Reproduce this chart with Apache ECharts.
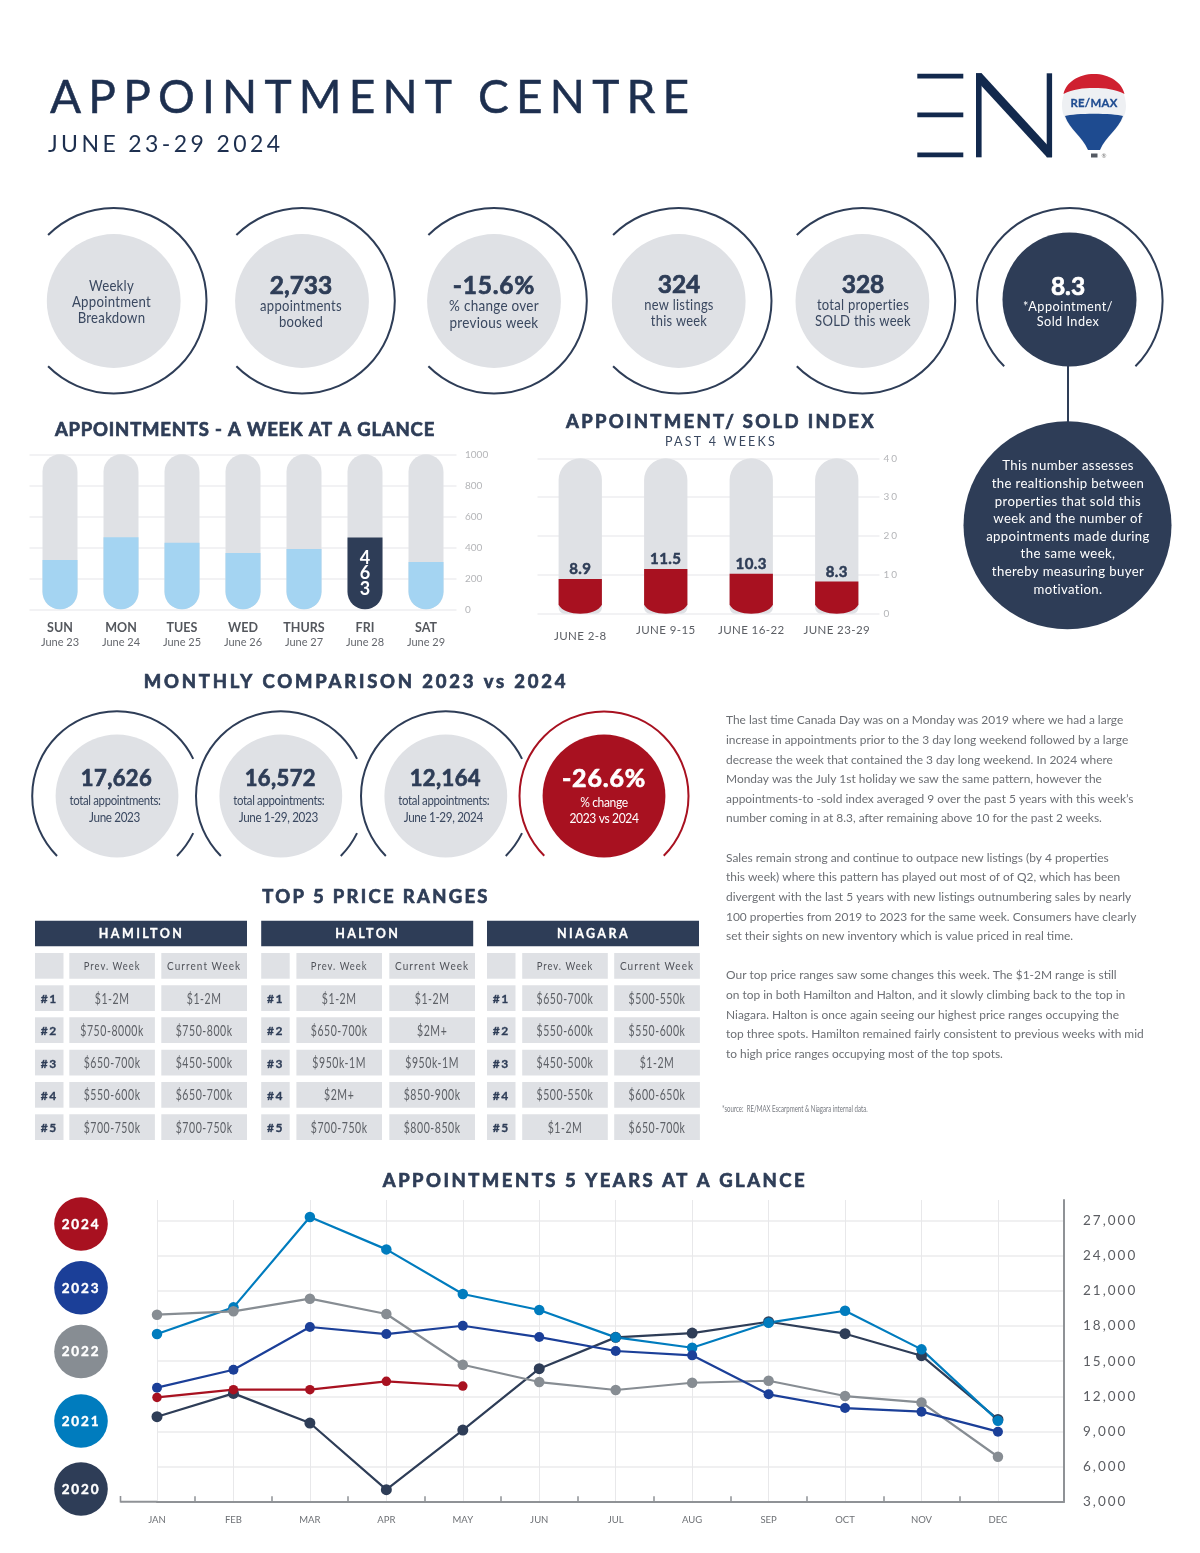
<!DOCTYPE html>
<html><head><meta charset="utf-8"><title>Appointment Centre</title>
<style>html,body{margin:0;padding:0;background:#fff}#c{width:1200px;height:1553px}</style>
<script src="https://cdn.jsdelivr.net/npm/echarts@6/dist/echarts.min.js"></script>
</head><body><div id="c"></div>
<script>
// ---------- data ----------
const weekDays = ['SUN','MON','TUES','WED','THURS','FRI','SAT'];
const weekDates = ['June 23','June 24','June 25','June 26','June 27','June 28','June 29'];
const weekValues = [318,465,430,363,389,463,305];
const weekCapacity = [1000,1000,1000,1000,1000,1000,1000];
const indexWeeks = ['JUNE 2-8','JUNE 9-15','JUNE 16-22','JUNE 23-29'];
const indexValues = [8.9,11.5,10.3,8.3];
const indexCapacity = [40,40,40,40];
const months = ['JAN','FEB','MAR','APR','MAY','JUN','JUL','AUG','SEP','OCT','NOV','DEC'];
const y2020 = [10260,12250,9720,4025,9120,14360,17035,17400,18370,17350,15470,10030];
const y2021 = [17321,19600,27310,24550,20740,19370,17035,16150,18290,19310,16010,9920];
const y2022 = [18970,19260,20340,19030,14700,13220,12540,13160,13330,12025,11480,6840];
const y2023 = [12740,14270,17920,17320,18030,17060,15870,15500,12170,11000,10690,8980];
const y2024 = [11910,12570,12570,13280,12880];
const tableRegions = ['HAMILTON','HALTON','NIAGARA'];
const tableRanks = ['#1','#2','#3','#4','#5'];
const hamiltonPrev = ['$1-2M','$750-8000k','$650-700k','$550-600k','$700-750k'];
const hamiltonCurr = ['$1-2M','$750-800k','$450-500k','$650-700k','$700-750k'];
const haltonPrev = ['$1-2M','$650-700k','$950k-1M','$2M+','$700-750k'];
const haltonCurr = ['$1-2M','$2M+','$950k-1M','$850-900k','$800-850k'];
const niagaraPrev = ['$650-700k','$550-600k','$450-500k','$500-550k','$1-2M'];
const niagaraCurr = ['$500-550k','$550-600k','$1-2M','$600-650k','$650-700k'];
const para1 = ["The last time Canada Day was on a Monday was 2019 where we had a large",
"increase in appointments prior to the 3 day long weekend followed by a large",
"decrease the week that contained the 3 day long weekend. In 2024 where",
"Monday was the July 1st holiday we saw the same pattern, however the",
"appointments-to -sold index averaged 9 over the past 5 years with this week’s",
"number coming in at 8.3, after remaining above 10 for the past 2 weeks."];
const para2 = ["Sales remain strong and continue to outpace new listings (by 4 properties",
"this week) where this pattern has played out most of of Q2, which has been",
"divergent with the last 5 years with new listings outnumbering sales by nearly",
"100 properties from 2019 to 2023 for the same week. Consumers have clearly",
"set their sights on new inventory which is value priced in real time."];
const para3 = ["Our top price ranges saw some changes this week. The $1-2M range is still",
"on top in both Hamilton and Halton, and it slowly climbing back to the top in",
"Niagara. Halton is once again seeing our highest price ranges occupying the",
"top three spots. Hamilton remained fairly consistent to previous weeks with mid",
"to high price ranges occupying most of the top spots."];
const noteLines = ["This number assesses","the realtionship between","properties that sold this","week and the number of","appointments made during","the same week,","thereby measuring buyer","motivation."];

// ---------- letter spacing through the font family marker (lsNN = NN/10 px, lsnNN = negative) ----------
const P = CanvasRenderingContext2D.prototype, ft = P.fillText, st = P.strokeText;
const applyLS = c => { const k = /\bls(n?)(\d+)\b/.exec(c.font); c.letterSpacing = k ? (k[1]?'-':'')+(k[2]/10)+'px' : '0px'; };
P.fillText = function(t,x,y,m){ applyLS(this); return m===undefined ? ft.call(this,t,x,y) : ft.call(this,t,x,y,m); };
P.strokeText = function(t,x,y,m){ applyLS(this); return m===undefined ? st.call(this,t,x,y) : st.call(this,t,x,y,m); };
const F = (s,base) => (base||'Lato')+(s?', '+(s<0?'lsn'+(-s):'ls'+s):'');

// ---------- palette ----------
const NAVY='#2e3d57', GREY='#dfe1e5', RED='#a81120', BLUE='#1b3f98', SKY='#007cbe', MID='#878d93', LB='#a4d4f2', TXT='#3a4860', BODY='#6c6f74', GRID='#eeeef0';

// ---------- graphic helpers ----------
const g = [];
const text = (x,y,t,size,fill,o={}) => g.push({type:'text',silent:true,x,y,scaleX:o.sx||1,style:Object.assign({text:t,fill,fontSize:size,fontWeight:o.w||'normal',fontFamily:F(o.s,o.f),align:o.a||'center',verticalAlign:'middle',textAlign:o.a||'center',textVerticalAlign:'middle'},o.st?{stroke:fill,lineWidth:o.st}:{})});
const heavy = (x,y,t,size,fill,s,sx,st) => text(x,y,t,size,fill,{s,w:'bold',sx,st:st||.7});
const circle = (cx,cy,r,fill) => g.push({type:'circle',silent:true,shape:{cx,cy,r},style:{fill}});
const rect = (x,y,w,h,fill) => g.push({type:'rect',silent:true,shape:{x,y,width:w,height:h},style:{fill}});
const deg = d => d*Math.PI/180;
const arc = (cx,cy,r,a,b,stroke,lw=2) => g.push({type:'arc',silent:true,shape:{cx,cy,r,startAngle:deg(a),endAngle:deg(b),clockwise:true},style:{stroke,lineWidth:lw,fill:'none'}});
const poly = (points,fill) => g.push({type:'polygon',silent:true,shape:{points},style:{fill}});
let shapeId=0;
const path = (d,fill) => { const name='logoShape'+(shapeId++); echarts.graphic.registerShape(name,echarts.graphic.extendPath(d,{})); g.push({type:name,silent:true,style:{fill}}); };
const line = (x1,y1,x2,y2,stroke,lw) => g.push({type:'line',silent:true,shape:{x1,y1,x2,y2},style:{stroke,lineWidth:lw}});

// header
text(50,98,'APPOINTMENT CENTRE',46,'#1d2f4f',{a:'left',s:72,st:.5});
text(48,145,'JUNE 23-29 2024',23,'#1d2f4f',{a:'left',s:34});
// EN logo
rect(917.3,73.7,46,4.8,'#12294d'); rect(917.3,112.4,46,4.8,'#12294d'); rect(917.3,152.4,46,4.8,'#12294d');
rect(976,73.3,5.6,84,'#12294d'); rect(1046.7,73.3,5.4,84,'#12294d');
poly([[976,73.3],[981.6,73.3],[1052,150],[1052,157.3],[1047,157.3],[976,80]],'#12294d');
// balloon
path('M1094 74 C1114 74 1126 89 1126 106 C1126 124 1108 134 1100 150 L1088 150 C1080 134 1062 124 1062 106 C1062 89 1074 74 1094 74 Z','#eef0f3');
path('M1065 116 C1075 113 1113 113 1123 116 C1118 130 1106 136 1100 150 L1088 150 C1082 136 1070 130 1065 116 Z','#1e4b90');
path('M1063.5 94 C1066 82 1079 74 1094 74 C1109 74 1122 82 1124.5 94 C1115 89 1105 88 1094 88 C1083 88 1073 89 1063.5 94 Z','#cf2030');
heavy(1094,103,'RE/MAX',12,'#1e4b90',3,.95,.3);
rect(1091,153.5,6.5,4,'#555a63');
text(1104,156.5,'®',6,'#777');

// top KPI circles
const kpiX=[113.7,302,494,678.7,862.4];
kpiX.forEach(x=>{ arc(x,300.7,92.8,-135,135,NAVY); circle(x,301,66.9,GREY); });
const kSub=(x,y,t,sx)=>text(x,y,t,15,TXT,{s:3,sx});
kSub(111.5,286,'Weekly',.88); kSub(111.5,302.5,'Appointment',.88); kSub(111.5,318.5,'Breakdown',.88);
heavy(301,286,'2,733',25,NAVY,0,.98); kSub(301,306,'appointments',.87); kSub(301,322.5,'booked',.87);
heavy(494,286,'-15.6%',25,NAVY,8,.98); kSub(494,306.5,'% change over',.9); kSub(494,323,'previous week',.9);
heavy(679,284.5,'324',25,NAVY,0,.98); kSub(679,305,'new listings',.86); kSub(679,321,'this week',.86);
heavy(863,284.5,'328',25,NAVY,0,.98); kSub(863,305,'total properties',.87); kSub(863,321,'SOLD this week',.87);
arc(1069.8,300.7,92.8,135,405,NAVY);
circle(1069.5,299.5,67,NAVY);
heavy(1068,286.5,'8.3',25,'#fff',0,.98);
text(1068,306.5,'*Appointment/',13.5,'#fff',{s:5,sx:.94}); text(1068,322,'Sold Index',13.5,'#fff',{s:5,sx:.94});
line(1068,366,1068,425,NAVY,2);
circle(1067.5,525.3,104,NAVY);
noteLines.forEach((t,i)=>text(1068,[465.7,483,501,518.7,536.7,553.7,571.7,589][i],t,14,'#fff',{s:4,sx:.94}));

// titles
heavy(245,430.5,'APPOINTMENTS - A WEEK AT A GLANCE',18.5,NAVY,8);
heavy(721,422.5,'APPOINTMENT/ SOLD INDEX',18.5,NAVY,23);
text(721,442,'PAST 4 WEEKS',12.5,TXT,{s:22});
heavy(356,682.5,'MONTHLY COMPARISON 2023 vs 2024',18.5,NAVY,28);
heavy(376,897.5,'TOP 5 PRICE RANGES',18.5,NAVY,23);
heavy(595,1181.5,'APPOINTMENTS 5 YEARS AT A GLANCE',18.5,NAVY,25);

// monthly circles
const monthX=[117,280.8,445.8];
const monthBig=['17,626','16,572','12,164'];
const monthSub=['June 2023','June 1-29, 2023','June 1-29, 2024'];
monthX.forEach((x,i)=>{
  arc(x,796,84.8,135,334,NAVY); arc(x,796,84.8,26,45,NAVY);
  circle(x,796,61.4,GREY);
  heavy(x-.5,778.5,monthBig[i],22,NAVY,4);
  text(x-2,801,'total appointments:',13,TXT,{s:-4,sx:.88});
  text(x-2.5,818,monthSub[i],13,TXT,{s:-4,sx:.9});
});
arc(604,796,84.5,135,405,RED);
circle(604,796,61.4,RED);
heavy(604,779,'-26.6%',25,'#fff',8);
text(604,803,'% change',13,'#fff',{s:-4,sx:.93});
text(604,819,'2023 vs 2024',13,'#fff',{s:-4,sx:.93});

// paragraphs
const bodyY1=[720.5,740.2,759.8,779.3,799,818.5], bodyY2=[858,877.5,897,917,936.5], bodyY3=[975.5,995,1015,1034.5,1054];
para1.forEach((t,i)=>text(726,bodyY1[i],t,12,BODY,{a:'left',sx:.995}));
para2.forEach((t,i)=>text(726,bodyY2[i],t,12,BODY,{a:'left',sx:.995}));
para3.forEach((t,i)=>text(726,bodyY3[i],t,12,BODY,{a:'left',sx:.995}));
text(722,1109.5,'*source:  RE/MAX Escarpment & Niagara internal data.',9,'#777a80',{a:'left',sx:.675});

// tables
const cols=[[35,69.3,161.3],[261.2,296.4,389.3],[487,522.2,614.2]];
const rowY=[985.3,1017.3,1049.7,1082,1114.3];
const tablePrev=[hamiltonPrev,haltonPrev,niagaraPrev], tableCurr=[hamiltonCurr,haltonCurr,niagaraCurr];
tableRegions.forEach((name,t)=>{
  const c=cols[t], ww=[28.5,85.6,85.7];
  rect(c[0],920.7,212,25.5,NAVY);
  text(c[0]+106.5,934,name,12.5,'#fff',{w:'bold',s:24,st:.3});
  rect(c[0],953,ww[0],25.7,GREY); rect(c[1],953,ww[1],25.7,GREY); rect(c[2],953,ww[2],25.7,GREY);
  text(c[1]+ww[1]/2,966.5,'Prev. Week',11.5,'#50535a',{s:12,sx:.82});
  text(c[2]+ww[2]/2,966.5,'Current Week',11.5,'#50535a',{s:12,sx:.87});
  tableRanks.forEach((r,i)=>{
    const y=rowY[i];
    rect(c[0],y,ww[0],25.7,GREY); rect(c[1],y,ww[1],25.7,GREY); rect(c[2],y,ww[2],25.7,GREY);
    text(c[0]+ww[0]/2,y+14,r,12,NAVY,{w:'bold',s:15,st:.3});
    text(c[1]+ww[1]/2,y+13.5,tablePrev[t][i],15,'#5d6066',{s:8,sx:.7});
    text(c[2]+ww[2]/2,y+13.5,tableCurr[t][i],15,'#5d6066',{s:8,sx:.7});
  });
});

// 5-year legend
const legendYears=['2024','2023','2022','2021','2020'];
const legendColors=[RED,BLUE,MID,SKY,NAVY];
const legendY=[1224,1287.8,1351.5,1421,1489];
legendYears.forEach((t,i)=>{ circle(81,legendY[i],26.8,legendColors[i]); heavy(81,legendY[i]+.5,t,13.5,'#fff',18,1,.4); });
// left stub of the month axis, in line with the tick row below
line(120.5,1501.7,157,1501.7,'#8f9296',2);
line(120.5,1496,120.5,1502.5,'#8f9296',1.6);

// ---------- chart ----------
const pair = a => a.map((v,i)=>[i,v]);
const lineSeries = (name,data,color,size) => ({name,type:'line',xAxisIndex:2,yAxisIndex:2,data:pair(data),symbol:'circle',symbolSize:size,showSymbol:true,
  lineStyle:{color,width:2.2},itemStyle:{color},silent:true,clip:false});
const option = {
  animation:false, backgroundColor:'#fff',
  grid:[
    {left:29.5,top:454.3,width:427,height:155},
    {left:537.5,top:458.3,width:342,height:155.4},
    {left:157,top:1200,width:907,height:301.7}
  ],
  xAxis:[
    {gridIndex:0,type:'category',data:weekDays,axisLine:{show:false},axisTick:{show:false},
     axisLabel:{margin:11,interval:0,formatter:(v,i)=>`{a|${v}}\n{b|${weekDates[i]}}`,
       rich:{a:{fontFamily:'Lato',fontWeight:'bold',fontSize:12.5,color:'#54575d',lineHeight:15,align:'center'},
             b:{fontFamily:'Lato',fontSize:11,color:'#64676d',lineHeight:14,align:'center'}}}},
    {gridIndex:1,type:'category',axisLine:{show:false},axisTick:{show:false},
     data:indexWeeks.map((w,i)=>({value:w,textStyle:{padding:[i===0?6:0,0,0,0]}})),
     axisLabel:{interval:0,margin:11,fontSize:11.5,color:'#5b5e64',fontFamily:F(4)}},
    {gridIndex:2,type:'value',min:0,max:11.864,interval:1,
     axisLine:{show:true,lineStyle:{color:'#8f9296',width:2}},axisTick:{show:false},
     splitLine:{show:true,showMaxLine:false,lineStyle:{color:'#e8e8ea',width:1}},
     axisLabel:{showMaxLabel:false,margin:13,fontSize:9.5,color:'#6d7075',fontFamily:'Lato',formatter:v=>months[v]||''}},
    {gridIndex:2,type:'value',min:0,max:11.864,position:'bottom',axisLine:{show:false},axisLabel:{show:false},splitLine:{show:false},
     axisTick:{show:true,inside:true,length:5.5,lineStyle:{color:'#8f9296',width:1.5},customValues:[0.5,1.5,2.5,3.5,4.5,5.5,6.5,7.5,8.5,9.5,10.5]}}
  ],
  yAxis:[
    {gridIndex:0,type:'value',min:0,max:1000,interval:200,position:'right',axisLine:{show:false},axisTick:{show:false},
     splitLine:{lineStyle:{color:GRID,width:1.5}},axisLabel:{margin:8.5,fontSize:10,color:'#b4b5b8',fontFamily:'Lato',formatter:v=>String(v)}},
    {gridIndex:1,type:'value',min:0,max:40,interval:10,position:'right',axisLine:{show:false},axisTick:{show:false},
     splitLine:{lineStyle:{color:GRID,width:1.5}},axisLabel:{margin:4,fontSize:10,color:'#b4b5b8',fontFamily:F(20)}},
    {gridIndex:2,type:'value',min:3000,max:28768,interval:3000,position:'right',
     axisLine:{show:true,onZero:false,lineStyle:{color:'#8f9296',width:2}},axisTick:{show:false},
     splitLine:{show:true,showMaxLine:false,lineStyle:{color:'#ebebed',width:1.5}},
     axisLabel:{showMaxLabel:false,margin:19,fontSize:13.5,color:'#5b5d62',fontFamily:F(20),formatter:v=>v.toLocaleString('en-US')}}
  ],
  series:[
    {type:'bar',xAxisIndex:0,yAxisIndex:0,barWidth:35,barGap:'-100%',silent:true,data:weekCapacity,
     itemStyle:{color:GREY,borderRadius:[17.5,17.5,17.5,17.5]}},
    {type:'bar',xAxisIndex:0,yAxisIndex:0,barWidth:35,barGap:'-100%',silent:true,
     data:weekValues.map((v,i)=> weekDays[i]==='FRI'
        ? {value:v,itemStyle:{color:NAVY},label:{show:true,position:'inside',formatter:String(v).split('').join('\n'),color:'#fff',fontSize:18,lineHeight:15.5,fontWeight:'bold',fontFamily:'Lato'}}
        : v),
     itemStyle:{color:LB,borderRadius:[0,0,17.5,17.5]}},
    {type:'bar',xAxisIndex:1,yAxisIndex:1,barWidth:43.3,barGap:'-100%',silent:true,data:indexCapacity,
     itemStyle:{color:GREY,borderRadius:[21.6,21.6,6,6]}},
    {type:'custom',z:5,xAxisIndex:1,yAxisIndex:1,silent:true,clip:false,data:pair(indexValues),encode:{x:0,y:1},
     renderItem:(p,api)=>{
       const i=api.value(0), v=api.value(1), top=api.coord([i,v]), bot=api.coord([i,0]);
       const w=43.3, x=top[0]-w/2, y=top[1], b=bot[1], cv=9;
       return {type:'path',
         shape:{pathData:`M${x} ${y} L${x+w} ${y} L${x+w} ${b-cv} C${x+w-6} ${b+cv/3} ${x+6} ${b+cv/3} ${x} ${b-cv} Z`,x,y,width:w,height:b-y,layout:'cover'},
         style:{fill:RED},
         textContent:{style:{text:String(v),fill:NAVY,stroke:NAVY,lineWidth:.5,fontSize:15,fontWeight:'bold',fontFamily:F(4)}},
         textConfig:{position:'top',distance:2}};
     }},
    lineSeries('2020',y2020,NAVY,11),
    lineSeries('2021',y2021,SKY,10.5),
    lineSeries('2022',y2022,MID,10.5),
    lineSeries('2023',y2023,BLUE,10),
    lineSeries('2024',y2024,RED,9.5)
  ],
  graphic:g
};
echarts.init(document.getElementById('c'),null,{renderer:'canvas'}).setOption(option);
</script></body></html>
